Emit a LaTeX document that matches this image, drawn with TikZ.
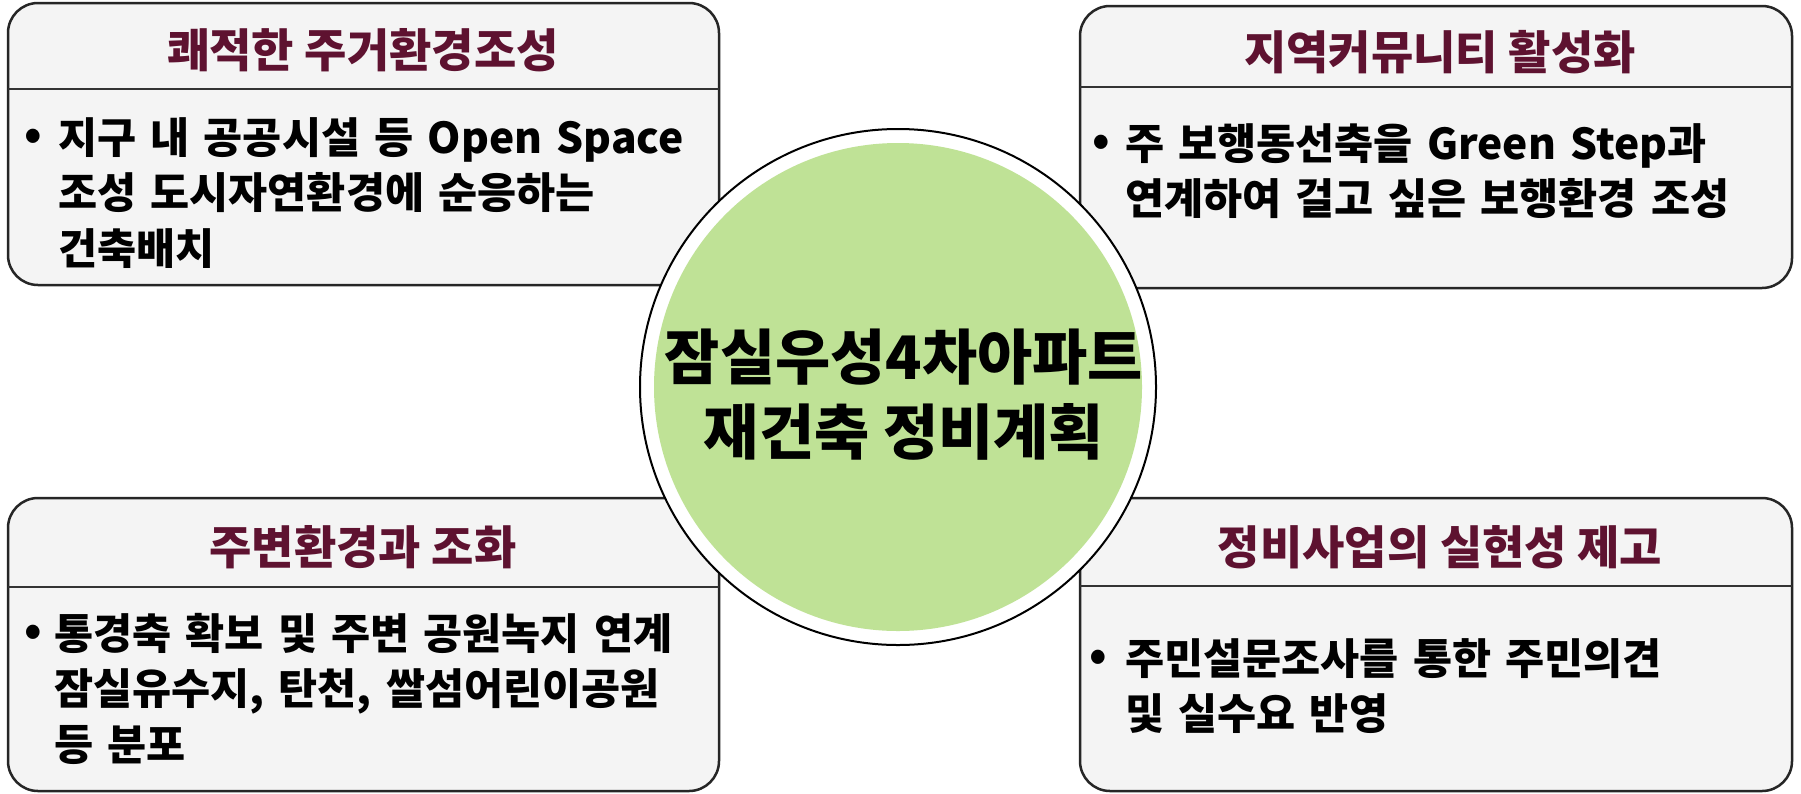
\documentclass[tikz,border=0pt]{standalone}
\usepackage{fontspec}
\newfontfamily\kr{Noto Sans CJK KR}
\definecolor{titlered}{HTML}{5E1230}
\definecolor{boxgray}{HTML}{F4F4F4}
\definecolor{hubgreen}{HTML}{BFE296}
\tikzset{
  panel/.style={draw=black!85,line width=2.5pt,fill=boxgray,rounded corners=30pt},
  divider/.style={draw=black!80,line width=2pt},
  paneltitle/.style={inner sep=0pt,text=titlered,font=\kr\bfseries\fontsize{46}{52}\selectfont},
  panelbody/.style={inner sep=0pt,anchor=base west,align=left,text width=680pt,
    font=\kr\bfseries\fontsize{42.5}{55.5}\selectfont},
  dot/.style={inner sep=0pt,font=\kr\bfseries\fontsize{44}{44}\selectfont}
}
\begin{document}
\begin{tikzpicture}[scale=1.000000,x=1pt,y=-1pt]
\useasboundingbox (0.000000,0.000000) rectangle (1801.000000,793.000000);
\fill[color=white] (0.000000,0.000000) rectangle (1801.000000,793.000000);
% Drawing panels
% Panel 1: top left
\draw[panel] (8.000000,3.000000) rectangle (719.000000,285.000000);
\draw[divider] (8.000000,89.000000) -- (719.000000,89.000000);
\node[paneltitle] (titleA) at (363.000000,50.000000) {쾌적한 주거환경조성};
\node[dot] (dotA) at (33.000000,139.000000) {•};
\node[panelbody] (bodyA) at (58.000000,153.000000) {지구 내 공공시설 등 Open Space\\조성 도시자연환경에 순응하는\\건축배치};
% Panel 2: top right
\draw[panel] (1080.000000,6.000000) rectangle (1792.000000,288.000000);
\draw[divider] (1080.000000,87.000000) -- (1792.000000,87.000000);
\node[paneltitle] (titleB) at (1440.000000,52.000000) {지역커뮤니티 활성화};
\node[dot] (dotB) at (1101.000000,145.000000) {•};
\node[panelbody] (bodyB) at (1125.000000,159.000000) {주 보행동선축을 Green Step과\\연계하여 걸고 싶은 보행환경 조성};
% Panel 3: bottom left
\draw[panel] (8.000000,498.000000) rectangle (719.000000,791.000000);
\draw[divider] (8.000000,587.000000) -- (719.000000,587.000000);
\node[paneltitle] (titleC) at (363.000000,547.000000) {주변환경과 조화};
\node[dot] (dotC) at (33.000000,635.000000) {•};
\node[panelbody] (bodyC) at (54.000000,649.000000) {통경축 확보 및 주변 공원녹지 연계\\잠실유수지, 탄천, 쌀섬어린이공원\\등 분포};
% Panel 4: bottom right
\draw[panel] (1080.000000,498.000000) rectangle (1792.000000,791.000000);
\draw[divider] (1080.000000,586.000000) -- (1792.000000,586.000000);
\node[paneltitle] (titleD) at (1440.000000,547.000000) {정비사업의 실현성 제고};
\node[dot] (dotD) at (1098.000000,660.000000) {•};
\node[panelbody] (bodyD) at (1125.000000,674.000000) {주민설문조사를 통한 주민의견\\ 및 실수요 반영};
% Done with panels; drawing hub
\draw[fill=white,line width=2pt] (898.000000,387.000000) circle (258.000000);
\fill[color=hubgreen] (898.000000,387.000000) circle (244.000000);
\node[align=center,inner sep=0pt,font=\kr\bfseries\fontsize{60}{75}\selectfont] (hub) at (904.000000,395.000000) {잠실우성4차아파트\\재건축 정비계획};
% Done with hub
\end{tikzpicture}
\end{document}
